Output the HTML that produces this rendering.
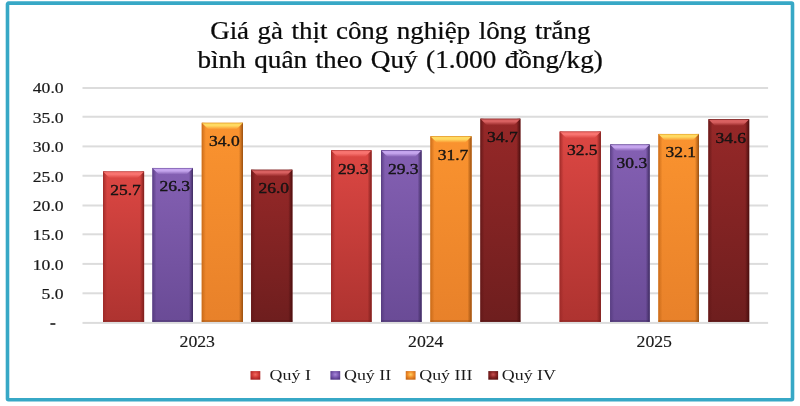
<!DOCTYPE html>
<html><head><meta charset="utf-8">
<style>
html,body{margin:0;padding:0;background:#fff;}
body{width:800px;height:406px;overflow:hidden;}
svg{display:block;}
#w{width:800px;height:406px;will-change:transform;}
text{font-family:"Liberation Serif",serif;fill:#1a1a1a;stroke:#1a1a1a;stroke-width:0px;}
</style></head><body>
<div id="w">
<svg width="800" height="406" viewBox="0 0 800 406">
<defs>
<linearGradient id="v0" x1="0" y1="0" x2="0" y2="1"><stop offset="0" stop-color="#dc4743"/><stop offset="1" stop-color="#ae3330"/></linearGradient>
<linearGradient id="h0" x1="0" y1="0" x2="1" y2="0"><stop offset="0" stop-color="#9e2a28" stop-opacity="1"/><stop offset="0.035" stop-color="#9e2a28" stop-opacity="0.6"/><stop offset="0.1" stop-color="#9e2a28" stop-opacity="0.0"/><stop offset="0.9" stop-color="#7e1e1c" stop-opacity="0"/><stop offset="1" stop-color="#7e1e1c" stop-opacity="1"/></linearGradient>
<linearGradient id="b0" x1="0" y1="0" x2="0" y2="1"><stop offset="0" stop-color="#b83230"/><stop offset="0.18" stop-color="#f87470"/><stop offset="0.45" stop-color="#f87470"/><stop offset="1" stop-color="#dc4743"/></linearGradient>
<linearGradient id="v1" x1="0" y1="0" x2="0" y2="1"><stop offset="0" stop-color="#8460b3"/><stop offset="1" stop-color="#6a4b96"/></linearGradient>
<linearGradient id="h1" x1="0" y1="0" x2="1" y2="0"><stop offset="0" stop-color="#563c80" stop-opacity="1"/><stop offset="0.035" stop-color="#563c80" stop-opacity="0.6"/><stop offset="0.1" stop-color="#563c80" stop-opacity="0.0"/><stop offset="0.9" stop-color="#3e2b60" stop-opacity="0"/><stop offset="1" stop-color="#3e2b60" stop-opacity="1"/></linearGradient>
<linearGradient id="b1" x1="0" y1="0" x2="0" y2="1"><stop offset="0" stop-color="#5e4094"/><stop offset="0.18" stop-color="#c6a6ee"/><stop offset="0.45" stop-color="#c6a6ee"/><stop offset="1" stop-color="#8460b3"/></linearGradient>
<linearGradient id="v2" x1="0" y1="0" x2="0" y2="1"><stop offset="0" stop-color="#fa932f"/><stop offset="1" stop-color="#e8812a"/></linearGradient>
<linearGradient id="h2" x1="0" y1="0" x2="1" y2="0"><stop offset="0" stop-color="#c86a18" stop-opacity="1"/><stop offset="0.035" stop-color="#c86a18" stop-opacity="0.6"/><stop offset="0.1" stop-color="#c86a18" stop-opacity="0.0"/><stop offset="0.9" stop-color="#9a5010" stop-opacity="0"/><stop offset="1" stop-color="#9a5010" stop-opacity="1"/></linearGradient>
<linearGradient id="b2" x1="0" y1="0" x2="0" y2="1"><stop offset="0" stop-color="#e09a20"/><stop offset="0.18" stop-color="#ffda62"/><stop offset="0.45" stop-color="#ffda62"/><stop offset="1" stop-color="#fa932f"/></linearGradient>
<linearGradient id="v3" x1="0" y1="0" x2="0" y2="1"><stop offset="0" stop-color="#962828"/><stop offset="1" stop-color="#6e1e1e"/></linearGradient>
<linearGradient id="h3" x1="0" y1="0" x2="1" y2="0"><stop offset="0" stop-color="#641818" stop-opacity="1"/><stop offset="0.035" stop-color="#641818" stop-opacity="0.6"/><stop offset="0.1" stop-color="#641818" stop-opacity="0.0"/><stop offset="0.9" stop-color="#4a0e0e" stop-opacity="0"/><stop offset="1" stop-color="#4a0e0e" stop-opacity="1"/></linearGradient>
<linearGradient id="b3" x1="0" y1="0" x2="0" y2="1"><stop offset="0" stop-color="#701a1a"/><stop offset="0.18" stop-color="#d86060"/><stop offset="0.45" stop-color="#d86060"/><stop offset="1" stop-color="#962828"/></linearGradient>
<radialGradient id="r0" cx="0.5" cy="0.4" r="0.6"><stop offset="0" stop-color="#f06a60"/><stop offset="0.55" stop-color="#d03a36"/><stop offset="1" stop-color="#a82424"/></radialGradient>
<radialGradient id="r1" cx="0.5" cy="0.4" r="0.6"><stop offset="0" stop-color="#a688d8"/><stop offset="0.55" stop-color="#7a58b0"/><stop offset="1" stop-color="#553a88"/></radialGradient>
<radialGradient id="r2" cx="0.5" cy="0.4" r="0.6"><stop offset="0" stop-color="#ffd060"/><stop offset="0.55" stop-color="#f08a28"/><stop offset="1" stop-color="#c86a18"/></radialGradient>
<radialGradient id="r3" cx="0.5" cy="0.4" r="0.6"><stop offset="0" stop-color="#c85050"/><stop offset="0.55" stop-color="#8a2424"/><stop offset="1" stop-color="#601414"/></radialGradient>
</defs>
<rect x="7.5" y="3.15" width="785" height="396.6" rx="1" fill="none" stroke="#37a8c6" stroke-width="3.6"/>
<rect x="82.5" y="321.90" width="685.6" height="2" fill="#dcdcdc"/>
<rect x="82.5" y="292.30" width="685.6" height="2" fill="#dcdcdc"/>
<rect x="82.5" y="262.90" width="685.6" height="2" fill="#dcdcdc"/>
<rect x="82.5" y="233.30" width="685.6" height="2" fill="#dcdcdc"/>
<rect x="82.5" y="204.50" width="685.6" height="2" fill="#dcdcdc"/>
<rect x="82.5" y="174.75" width="685.6" height="2" fill="#dcdcdc"/>
<rect x="82.5" y="145.40" width="685.6" height="2" fill="#dcdcdc"/>
<rect x="82.5" y="115.75" width="685.6" height="2" fill="#dcdcdc"/>
<rect x="82.5" y="87.00" width="685.6" height="2" fill="#dcdcdc"/>
<rect x="103.00" y="171.47" width="41.10" height="150.43" fill="url(#v0)"/>
<rect x="103.00" y="171.47" width="41.10" height="150.43" fill="url(#h0)"/>
<rect x="103.00" y="320.30" width="41.10" height="1.6" fill="#7e1e1c" fill-opacity="0.5"/>
<polygon points="103.00,171.47 144.10,171.47 137.60,177.97 109.50,177.97" fill="url(#b0)"/>
<text transform="translate(125.55,194.97) scale(1.13,1)" text-anchor="middle" font-size="15.5" fill="#0a0a0a" style="stroke:#0a0a0a;stroke-width:0.35px">25.7</text>
<rect x="152.40" y="167.95" width="40.60" height="153.95" fill="url(#v1)"/>
<rect x="152.40" y="167.95" width="40.60" height="153.95" fill="url(#h1)"/>
<rect x="152.40" y="320.30" width="40.60" height="1.6" fill="#3e2b60" fill-opacity="0.5"/>
<polygon points="152.40,167.95 193.00,167.95 186.50,174.45 158.90,174.45" fill="url(#b1)"/>
<text transform="translate(174.70,191.45) scale(1.13,1)" text-anchor="middle" font-size="15.5" fill="#0a0a0a" style="stroke:#0a0a0a;stroke-width:0.35px">26.3</text>
<rect x="201.75" y="122.79" width="41.25" height="199.11" fill="url(#v2)"/>
<rect x="201.75" y="122.79" width="41.25" height="199.11" fill="url(#h2)"/>
<rect x="201.75" y="320.30" width="41.25" height="1.6" fill="#9a5010" fill-opacity="0.5"/>
<polygon points="201.75,122.79 243.00,122.79 236.50,129.29 208.25,129.29" fill="url(#b2)"/>
<text transform="translate(224.38,146.29) scale(1.13,1)" text-anchor="middle" font-size="15.5" fill="#0a0a0a" style="stroke:#0a0a0a;stroke-width:0.35px">34.0</text>
<rect x="251.10" y="169.71" width="41.30" height="152.19" fill="url(#v3)"/>
<rect x="251.10" y="169.71" width="41.30" height="152.19" fill="url(#h3)"/>
<rect x="251.10" y="320.30" width="41.30" height="1.6" fill="#4a0e0e" fill-opacity="0.5"/>
<polygon points="251.10,169.71 292.40,169.71 285.90,176.21 257.60,176.21" fill="url(#b3)"/>
<text transform="translate(273.75,193.21) scale(1.13,1)" text-anchor="middle" font-size="15.5" fill="#0a0a0a" style="stroke:#0a0a0a;stroke-width:0.35px">26.0</text>
<rect x="331.00" y="150.36" width="40.60" height="171.54" fill="url(#v0)"/>
<rect x="331.00" y="150.36" width="40.60" height="171.54" fill="url(#h0)"/>
<rect x="331.00" y="320.30" width="40.60" height="1.6" fill="#7e1e1c" fill-opacity="0.5"/>
<polygon points="331.00,150.36 371.60,150.36 365.10,156.86 337.50,156.86" fill="url(#b0)"/>
<text transform="translate(353.30,173.86) scale(1.13,1)" text-anchor="middle" font-size="15.5" fill="#0a0a0a" style="stroke:#0a0a0a;stroke-width:0.35px">29.3</text>
<rect x="381.00" y="150.36" width="40.60" height="171.54" fill="url(#v1)"/>
<rect x="381.00" y="150.36" width="40.60" height="171.54" fill="url(#h1)"/>
<rect x="381.00" y="320.30" width="40.60" height="1.6" fill="#3e2b60" fill-opacity="0.5"/>
<polygon points="381.00,150.36 421.60,150.36 415.10,156.86 387.50,156.86" fill="url(#b1)"/>
<text transform="translate(403.30,173.86) scale(1.13,1)" text-anchor="middle" font-size="15.5" fill="#0a0a0a" style="stroke:#0a0a0a;stroke-width:0.35px">29.3</text>
<rect x="430.40" y="136.28" width="41.20" height="185.62" fill="url(#v2)"/>
<rect x="430.40" y="136.28" width="41.20" height="185.62" fill="url(#h2)"/>
<rect x="430.40" y="320.30" width="41.20" height="1.6" fill="#9a5010" fill-opacity="0.5"/>
<polygon points="430.40,136.28 471.60,136.28 465.10,142.78 436.90,142.78" fill="url(#b2)"/>
<text transform="translate(453.00,159.78) scale(1.13,1)" text-anchor="middle" font-size="15.5" fill="#0a0a0a" style="stroke:#0a0a0a;stroke-width:0.35px">31.7</text>
<rect x="480.40" y="118.68" width="40.00" height="203.22" fill="url(#v3)"/>
<rect x="480.40" y="118.68" width="40.00" height="203.22" fill="url(#h3)"/>
<rect x="480.40" y="320.30" width="40.00" height="1.6" fill="#4a0e0e" fill-opacity="0.5"/>
<polygon points="480.40,118.68 520.40,118.68 513.90,125.18 486.90,125.18" fill="url(#b3)"/>
<text transform="translate(502.40,142.18) scale(1.13,1)" text-anchor="middle" font-size="15.5" fill="#0a0a0a" style="stroke:#0a0a0a;stroke-width:0.35px">34.7</text>
<rect x="559.60" y="131.59" width="41.30" height="190.31" fill="url(#v0)"/>
<rect x="559.60" y="131.59" width="41.30" height="190.31" fill="url(#h0)"/>
<rect x="559.60" y="320.30" width="41.30" height="1.6" fill="#7e1e1c" fill-opacity="0.5"/>
<polygon points="559.60,131.59 600.90,131.59 594.40,138.09 566.10,138.09" fill="url(#b0)"/>
<text transform="translate(582.25,155.09) scale(1.13,1)" text-anchor="middle" font-size="15.5" fill="#0a0a0a" style="stroke:#0a0a0a;stroke-width:0.35px">32.5</text>
<rect x="610.10" y="144.49" width="39.60" height="177.41" fill="url(#v1)"/>
<rect x="610.10" y="144.49" width="39.60" height="177.41" fill="url(#h1)"/>
<rect x="610.10" y="320.30" width="39.60" height="1.6" fill="#3e2b60" fill-opacity="0.5"/>
<polygon points="610.10,144.49 649.70,144.49 643.20,150.99 616.60,150.99" fill="url(#b1)"/>
<text transform="translate(631.90,167.99) scale(1.13,1)" text-anchor="middle" font-size="15.5" fill="#0a0a0a" style="stroke:#0a0a0a;stroke-width:0.35px">30.3</text>
<rect x="658.40" y="133.93" width="40.60" height="187.97" fill="url(#v2)"/>
<rect x="658.40" y="133.93" width="40.60" height="187.97" fill="url(#h2)"/>
<rect x="658.40" y="320.30" width="40.60" height="1.6" fill="#9a5010" fill-opacity="0.5"/>
<polygon points="658.40,133.93 699.00,133.93 692.50,140.43 664.90,140.43" fill="url(#b2)"/>
<text transform="translate(680.70,157.43) scale(1.13,1)" text-anchor="middle" font-size="15.5" fill="#0a0a0a" style="stroke:#0a0a0a;stroke-width:0.35px">32.1</text>
<rect x="708.40" y="119.27" width="40.80" height="202.63" fill="url(#v3)"/>
<rect x="708.40" y="119.27" width="40.80" height="202.63" fill="url(#h3)"/>
<rect x="708.40" y="320.30" width="40.80" height="1.6" fill="#4a0e0e" fill-opacity="0.5"/>
<polygon points="708.40,119.27 749.20,119.27 742.70,125.77 714.90,125.77" fill="url(#b3)"/>
<text transform="translate(730.80,142.77) scale(1.13,1)" text-anchor="middle" font-size="15.5" fill="#0a0a0a" style="stroke:#0a0a0a;stroke-width:0.35px">34.6</text>
<rect x="50.4" y="323.1" width="5" height="1.8" fill="#333"/>
<text transform="translate(63.6,299.20) scale(1.26,1)" text-anchor="end" font-size="14" style="stroke-width:0.2px">5.0</text>
<text transform="translate(63.6,269.80) scale(1.26,1)" text-anchor="end" font-size="14" style="stroke-width:0.2px">10.0</text>
<text transform="translate(63.6,240.40) scale(1.26,1)" text-anchor="end" font-size="14" style="stroke-width:0.2px">15.0</text>
<text transform="translate(63.6,211.00) scale(1.26,1)" text-anchor="end" font-size="14" style="stroke-width:0.2px">20.0</text>
<text transform="translate(63.6,181.60) scale(1.26,1)" text-anchor="end" font-size="14" style="stroke-width:0.2px">25.0</text>
<text transform="translate(63.6,152.20) scale(1.26,1)" text-anchor="end" font-size="14" style="stroke-width:0.2px">30.0</text>
<text transform="translate(63.6,122.80) scale(1.26,1)" text-anchor="end" font-size="14" style="stroke-width:0.2px">35.0</text>
<text transform="translate(63.6,93.40) scale(1.26,1)" text-anchor="end" font-size="14" style="stroke-width:0.2px">40.0</text>
<text transform="translate(197.25,347) scale(1.11,1)" text-anchor="middle" font-size="16" style="stroke-width:0.15px">2023</text>
<text transform="translate(425.75,347) scale(1.11,1)" text-anchor="middle" font-size="16" style="stroke-width:0.15px">2024</text>
<text transform="translate(654.25,347) scale(1.11,1)" text-anchor="middle" font-size="16" style="stroke-width:0.15px">2025</text>
<text transform="translate(400.3,38.7) scale(1.10,1)" text-anchor="middle" font-size="24.5" word-spacing="1.6" style="fill:#0a0a0a;stroke:#0a0a0a;stroke-width:0.25px">Giá gà thịt công nghiệp lông trắng</text>
<text transform="translate(400.1,67.8) scale(1.108,1)" text-anchor="middle" font-size="24.5" word-spacing="1.6" style="fill:#0a0a0a;stroke:#0a0a0a;stroke-width:0.25px">bình quân theo Quý (1.000 đồng/kg)</text>
<rect x="250.5" y="371.1" width="9.8" height="8.6" fill="url(#r0)"/>
<text transform="translate(269.6,380.2) scale(1.155,1)" font-size="15.5">Quý I</text>
<rect x="330.4" y="371.1" width="9.8" height="8.6" fill="url(#r1)"/>
<text transform="translate(344,380.2) scale(1.155,1)" font-size="15.5">Quý II</text>
<rect x="405.75" y="371.1" width="9.8" height="8.6" fill="url(#r2)"/>
<text transform="translate(419.25,380.2) scale(1.155,1)" font-size="15.5">Quý III</text>
<rect x="488.3" y="371.1" width="9.8" height="8.6" fill="url(#r3)"/>
<text transform="translate(501.8,380.2) scale(1.155,1)" font-size="15.5">Quý IV</text>
</svg>
</div>
</body></html>
